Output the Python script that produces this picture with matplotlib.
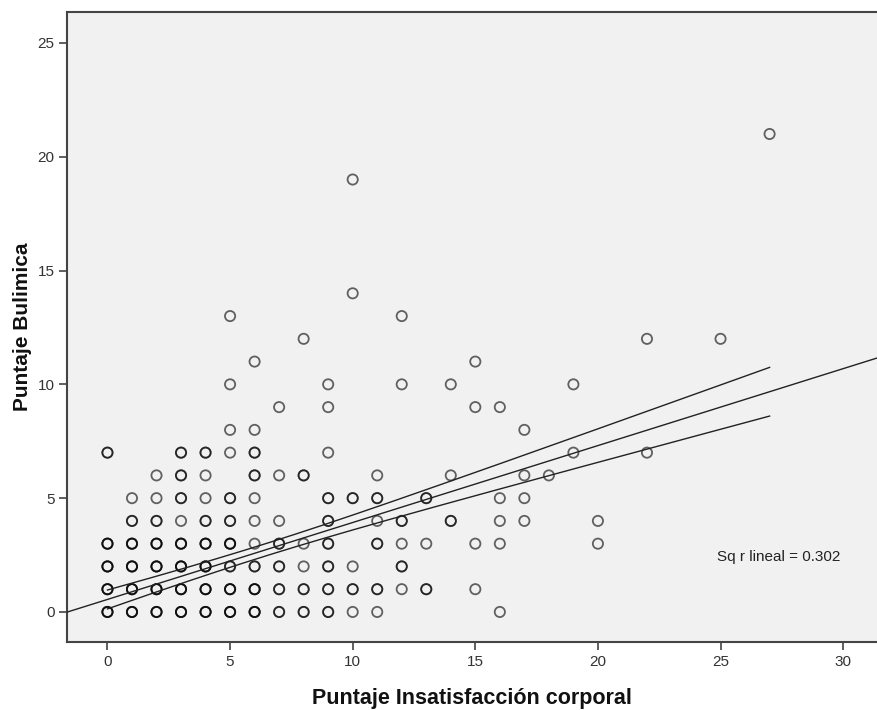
import numpy as np
import matplotlib
matplotlib.use("Agg")
import matplotlib.pyplot as plt

plt.rcParams['font.family'] = ['Liberation Sans', 'DejaVu Sans']

# ---- data (x = insatisfaccion corporal, y = bulimia) ----
insat_x = [0, 0, 0, 0, 0,
           1, 1, 1, 1, 1, 1,
           2, 2, 2, 2, 2, 2, 2,
           3, 3, 3, 3, 3, 3, 3, 3,
           4, 4, 4, 4, 4, 4, 4, 4,
           5, 5, 5, 5, 5, 5, 5, 5, 5, 5,
           6, 6, 6, 6, 6, 6, 6, 6, 6, 6,
           7, 7, 7, 7, 7, 7, 7,
           8, 8, 8, 8, 8, 8,
           9, 9, 9, 9, 9, 9, 9, 9, 9,
           10, 10, 10, 10, 10, 10,
           11, 11, 11, 11, 11, 11,
           12, 12, 12, 12, 12, 12,
           13, 13, 13,
           14, 14, 14,
           15, 15, 15, 15,
           16, 16, 16, 16, 16,
           17, 17, 17, 17,
           18,
           19, 19,
           20, 20,
           22, 22,
           25,
           27]
bulimia_y = [0, 1, 2, 3, 7,
             0, 1, 2, 3, 4, 5,
             0, 1, 2, 3, 4, 5, 6,
             0, 1, 2, 3, 4, 5, 6, 7,
             0, 1, 2, 3, 4, 5, 6, 7,
             0, 1, 2, 3, 4, 5, 7, 8, 10, 13,
             0, 1, 2, 3, 4, 5, 6, 7, 8, 11,
             0, 1, 2, 3, 4, 6, 9,
             0, 1, 2, 3, 6, 12,
             0, 1, 2, 3, 4, 5, 7, 9, 10,
             0, 1, 2, 5, 14, 19,
             0, 1, 3, 4, 5, 6,
             1, 2, 3, 4, 10, 13,
             1, 3, 5,
             4, 6, 10,
             1, 3, 9, 11,
             0, 3, 4, 5, 9,
             4, 5, 6, 8,
             6,
             7, 10,
             3, 4,
             7, 12,
             12,
             21]
# overlap level (darkness of the circle)
overlap = [3, 3, 3, 3, 2,
           3, 3, 3, 3, 2, 1,
           3, 3, 3, 3, 2, 1, 1,
           3, 3, 3, 3, 1, 2, 2, 2,
           3, 3, 3, 3, 2, 1, 1, 2,
           3, 3, 2, 3, 2, 2, 1, 1, 1, 1,
           3, 3, 2, 1, 1, 1, 2, 2, 1, 1,
           2, 2, 2, 2, 1, 1, 1,
           2, 2, 1, 1, 2, 1,
           2, 2, 2, 2, 2, 2, 1, 1, 1,
           1, 2, 1, 2, 1, 1,
           1, 2, 2, 1, 2, 1,
           1, 2, 1, 2, 1, 1,
           2, 1, 2,
           2, 1, 1,
           1, 1, 1, 1,
           1, 1, 1, 1, 1,
           1, 1, 1, 1,
           1,
           1, 1,
           1, 1,
           1, 1,
           1,
           1]

# fitted line and 95% mean-confidence band
fit_intercept = 0.55
fit_slope = 0.338
band_base = 0.27      # half-width at the centre of x
band_growth = 0.05    # growth of half-width per unit away from the centre
band_center = 6.3
r2_label = "Sq r lineal = 0.302"

x_label = "Puntaje Insatisfacción corporal"
y_label = "Puntaje Bulimica"
x_ticks = [0, 5, 10, 15, 20, 25, 30]
y_ticks = [0, 5, 10, 15, 20, 25]

# ---- figure ----
fig = plt.figure(figsize=(8.77, 7.10), dpi=100)
fig.patch.set_facecolor('white')
ax = fig.add_axes([67 / 877, 1 - 642 / 710, 1 - 67 / 877, (642 - 12) / 710])
ax.set_facecolor('#f0f1f0')

xs = np.repeat(np.array(insat_x, float), overlap)
ys = np.repeat(np.array(bulimia_y, float), overlap)
ax.scatter(xs, ys, s=54, facecolors='none', edgecolors='black',
           linewidths=1.3, alpha=0.6, zorder=3)

xlim = (-1.65, 31.38)
ylim = (-1.32, 26.36)
ax.set_xlim(*xlim)
ax.set_ylim(*ylim)

xl = np.linspace(xlim[0], xlim[1], 200)
ax.plot(xl, fit_intercept + fit_slope * xl, color='#222222', lw=1.0, zorder=4)

xb = np.linspace(min(insat_x), max(insat_x), 200)
hw = np.sqrt(band_base ** 2 + band_growth ** 2 * (xb - band_center) ** 2)
yb = fit_intercept + fit_slope * xb
ax.plot(xb, yb + hw, color='#222222', lw=1.0, zorder=4)
ax.plot(xb, yb - hw, color='#222222', lw=1.0, zorder=4)

ax.text((717 - 67) / 810, (642 - 557) / 630, r2_label, transform=ax.transAxes,
        fontsize=11, color='#222222', ha='left', va='center')

ax.set_xticks(x_ticks)
ax.set_yticks(y_ticks)
ax.tick_params(axis='both', direction='out', length=6, width=1.2,
               color='#444444', labelsize=11, labelcolor='#333333', pad=3)
for side in ('left', 'bottom', 'top'):
    ax.spines[side].set_color('#444444')
    ax.spines[side].set_linewidth(1.5)
ax.spines['right'].set_visible(False)

ax.set_xlabel(x_label, fontsize=15.5, fontweight='bold', color='#111111', labelpad=14)
ax.set_ylabel(y_label, fontsize=15, fontweight='bold', color='#111111', labelpad=4)

fig.savefig('out.png', dpi=100)
